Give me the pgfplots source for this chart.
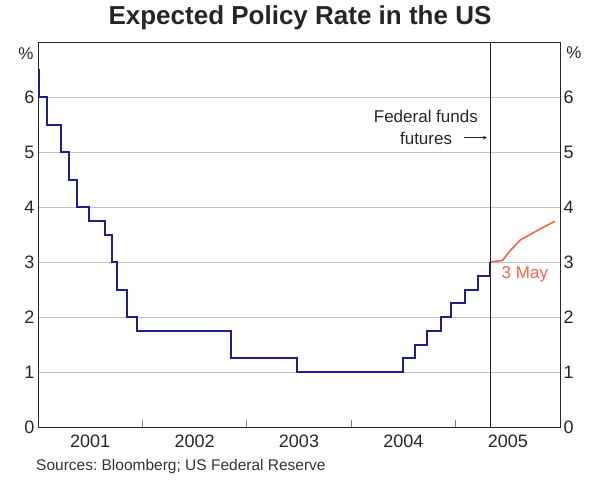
\documentclass[border=0pt]{standalone}
\usepackage{fontspec}
\setmainfont{Liberation Sans}
\usepackage{pgfplots}
\pgfplotsset{compat=1.18}
\definecolor{rbablue}{RGB}{30,30,140}
\definecolor{rbared}{RGB}{248,100,70}
\definecolor{gridgray}{RGB}{190,195,200}
\frenchspacing

\begin{document}
\begin{tikzpicture}[x=1pt,y=1pt]
\useasboundingbox (0,0) rectangle (600,483);
\node[font=\fontsize{26}{30}\selectfont\bfseries, text=black!85] at (300,465) {Expected Policy Rate in the US};
\node[anchor=west, inner sep=0, font=\fontsize{15.5}{18}\selectfont, text=black!80] at (36,17) {Sources: Bloomberg; US Federal Reserve};
\node[font=\fontsize{17}{20}\selectfont, text=black!85] at (26,429) {\%};
\node[font=\fontsize{17}{20}\selectfont, text=black!85] at (574,430) {\%};

\pgfplotsset{rbaaxis/.style={
  at={(38pt,56pt)}, anchor=south west, scale only axis,
  width=522pt, height=385pt,
  xmin=2001, xmax=2006, ymin=0, ymax=7,
  ytick={0,1,2,3,4,5,6},
  major tick length=0pt,
  axis line style={black!85, line width=0.9pt},
  ticklabel style={font=\fontsize{18}{20}\selectfont, text=black!85},
  /pgf/number format/assume math mode=true,
}}

% main axis: grid, data
\begin{axis}[rbaaxis,
  ymajorgrids, grid style={gridgray, line width=0.9pt},
  ytick pos=left, xtick pos=bottom,
  xtick={2001.5,2002.5,2003.5,2004.5,2005.5},
  xticklabels={2001,2002,2003,2004,2005},
  xticklabel style={yshift=-4pt},
  extra x ticks={2002,2003,2004,2005},
  extra x tick labels={},
  extra x tick style={major tick length=7pt, tick style={gray, line width=0.9pt}, grid=none},
  clip=true,
]
% fed funds target rate
\addplot[const plot mark left, rbablue, line width=2pt] coordinates {
  (2001.000,6.50) (2001.008,6.00) (2001.082,5.50) (2001.216,5.00)
  (2001.296,4.50) (2001.370,4.00) (2001.488,3.75) (2001.638,3.50)
  (2001.712,3.00) (2001.753,2.50) (2001.849,2.00) (2001.945,1.75)
  (2002.849,1.25) (2003.482,1.00) (2004.496,1.25) (2004.608,1.50)
  (2004.723,1.75) (2004.860,2.00) (2004.953,2.25) (2005.088,2.50)
  (2005.219,2.75) (2005.334,3.00)
};
% futures, 3 May
\addplot[rbared, line width=1.6pt] coordinates {
  (2005.334,3.00) (2005.45,3.03) (2005.53,3.22) (2005.62,3.40)
  (2005.78,3.57) (2005.95,3.74)
};
% marker for the futures start
\addplot[black!85, line width=0.9pt] coordinates {(2005.334,0) (2005.334,7)};

\node[anchor=east, inner sep=0, font=\fontsize{17}{20}\selectfont, text=black!85]
  at (axis cs:2005.215,5.64) {Federal funds};
\node[anchor=east, inner sep=0, font=\fontsize{17}{20}\selectfont, text=black!85]
  at (axis cs:2004.968,5.25) {futures};
\draw[-stealth, black!85, line width=0.8pt] (axis cs:2005.08,5.26) -- (axis cs:2005.30,5.26);
\node[anchor=west, inner sep=0, font=\fontsize{17}{20}\selectfont, text=rbared]
  at (axis cs:2005.44,2.78) {3 May};
\end{axis}

% right-hand labels
\begin{axis}[rbaaxis,
  hide x axis, axis y line*=right,
]
\end{axis}
\end{tikzpicture}
\end{document}
